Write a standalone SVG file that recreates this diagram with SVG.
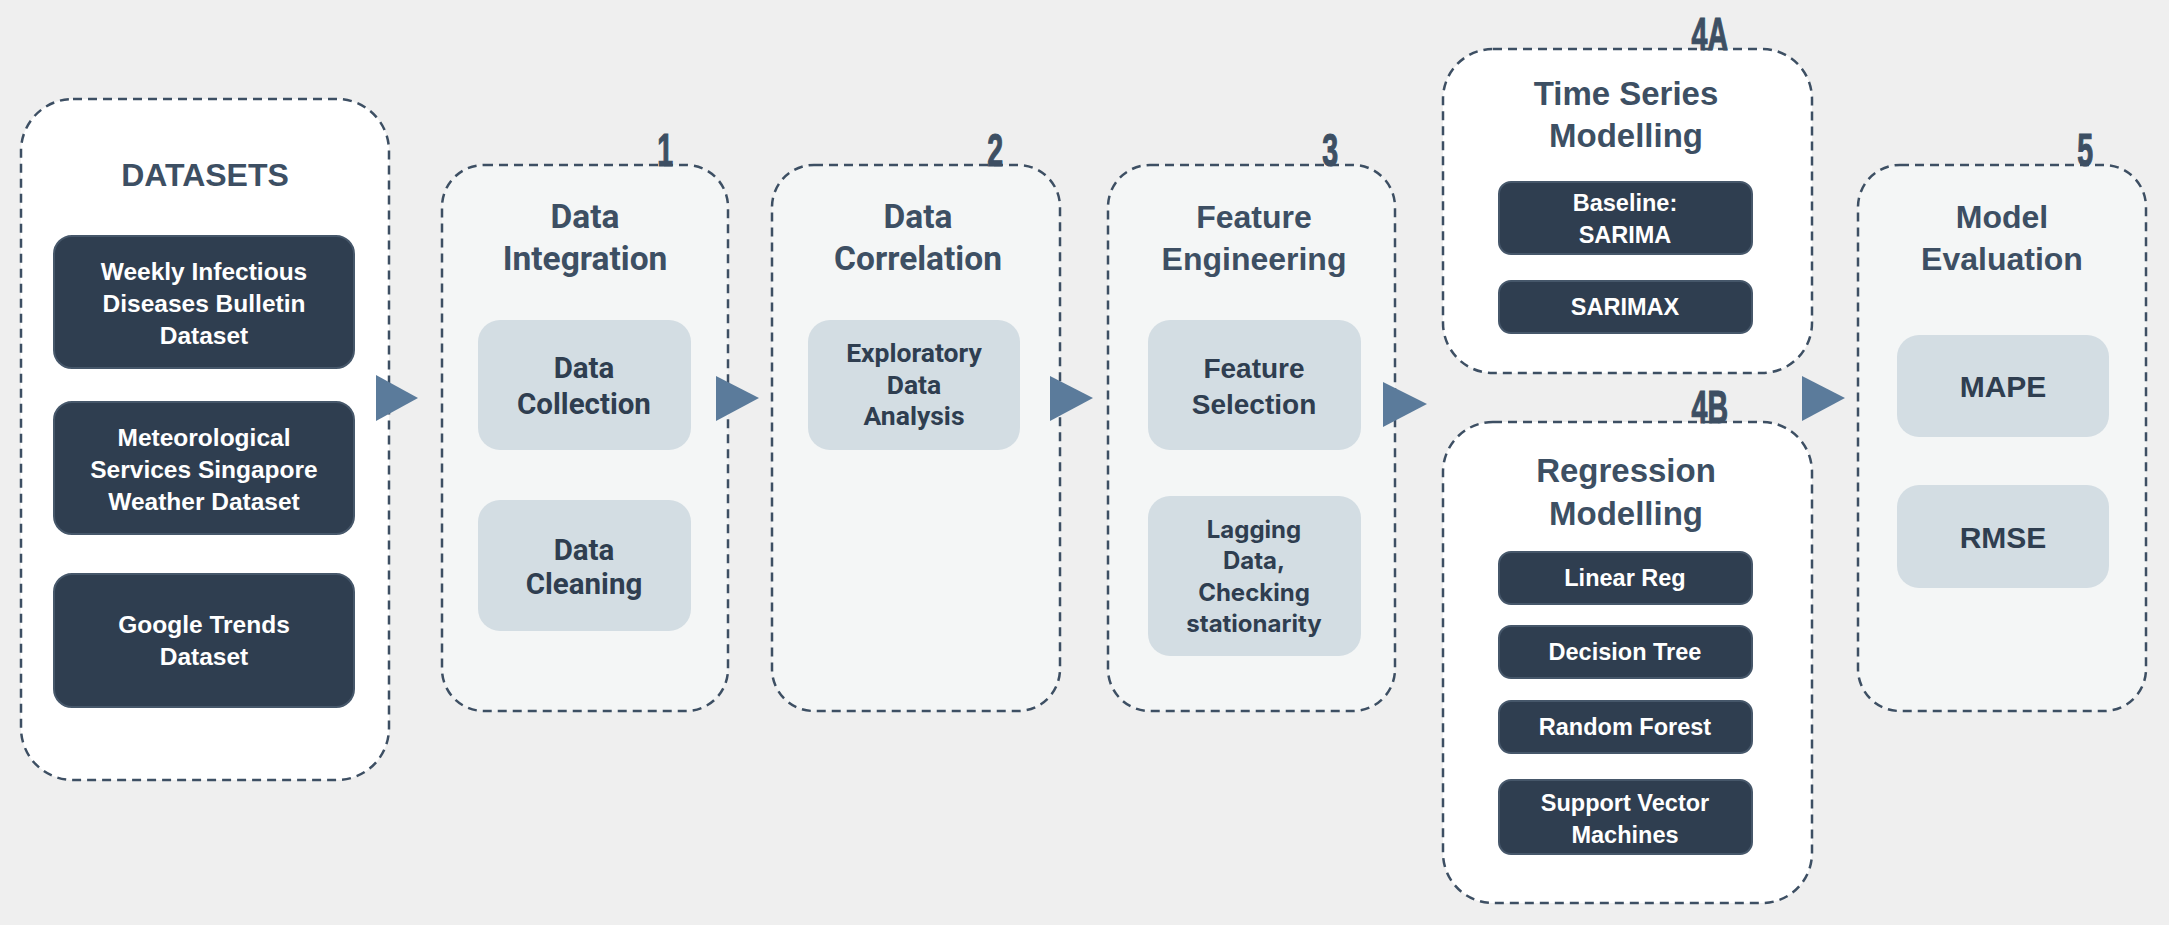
<svg xmlns="http://www.w3.org/2000/svg" width="2169" height="925" viewBox="0 0 2169 925">
<defs>
<style>
.bg{fill:#efefef}
.cont{stroke:#3d4f63;stroke-width:2.5;stroke-dasharray:9 6}
.white{fill:#ffffff}
.pale{fill:#f4f6f6}
.dark{fill:#2f3e50;stroke:#46576a;stroke-width:2}
.light{fill:#d3dde3}
.title{font-family:"Liberation Sans",Arial,sans-serif;font-weight:700;fill:#3d4f63;text-anchor:middle}
.titleN{font-family:Roboto,"Liberation Sans",sans-serif;font-weight:700;fill:#3d4f63;text-anchor:middle}
.wt{font-family:"Liberation Sans",Arial,sans-serif;font-weight:700;fill:#ffffff;text-anchor:middle}
.it{font-family:Roboto,"Liberation Sans",sans-serif;font-weight:700;fill:#2f3e50;text-anchor:middle}
.il{font-family:"Liberation Sans",Arial,sans-serif;font-weight:700;fill:#2f3e50;text-anchor:middle}
.ii{font-family:Inter,"Liberation Sans",sans-serif;font-weight:700;fill:#2f3e50;text-anchor:middle}
.num{font-family:"Liberation Sans",Arial,sans-serif;font-weight:700;fill:#3d4f63;stroke:#3d4f63;stroke-width:1.2;text-anchor:end;font-size:46px}
.arrow{fill:#5b7b9b}
</style>
</defs>
<rect class="bg" x="0" y="0" width="2169" height="925"/>

<g id="datasets">
<rect class="cont white" x="21" y="99" width="368" height="681" rx="52"/>
<text class="title" x="205" y="186" font-size="32">DATASETS</text>
<g id="ds-weekly">
<rect class="dark" x="54" y="236" width="300" height="132" rx="18"/>
<text class="wt" x="204" y="280" font-size="24.5">Weekly Infectious</text>
<text class="wt" x="204" y="312" font-size="24.5">Diseases Bulletin</text>
<text class="wt" x="204" y="344" font-size="24.5">Dataset</text>
</g>
<g id="ds-weather">
<rect class="dark" x="54" y="402" width="300" height="132" rx="18"/>
<text class="wt" x="204" y="446" font-size="24.5">Meteorological</text>
<text class="wt" x="204" y="478" font-size="24.5">Services Singapore</text>
<text class="wt" x="204" y="510" font-size="24.5">Weather Dataset</text>
</g>
<g id="ds-google">
<rect class="dark" x="54" y="574" width="300" height="133" rx="18"/>
<text class="wt" x="204" y="633" font-size="24.5">Google Trends</text>
<text class="wt" x="204" y="665" font-size="24.5">Dataset</text>
</g>
</g>

<g id="stage1">
<rect class="cont pale" x="442" y="165" width="286" height="546" rx="42"/>
<text class="num" transform="translate(673,166) scale(0.62,1)">1</text>
<text class="titleN" x="585" y="228" font-size="33.5">Data</text>
<text class="titleN" x="585" y="270" font-size="33.5">Integration</text>
<g id="data-collection">
<rect class="light" x="478" y="320" width="213" height="130" rx="22"/>
<text class="it" x="584" y="378" font-size="29.5">Data</text>
<text class="it" x="584" y="414" font-size="29.5">Collection</text>
</g>
<g id="data-cleaning">
<rect class="light" x="478" y="500" width="213" height="131" rx="22"/>
<text class="it" x="584" y="560" font-size="29.5">Data</text>
<text class="it" x="584" y="594" font-size="29.5">Cleaning</text>
</g>
</g>

<g id="stage2">
<rect class="cont pale" x="772" y="165" width="288" height="546" rx="42"/>
<text class="num" transform="translate(1003,166) scale(0.62,1)">2</text>
<text class="titleN" x="918" y="228" font-size="33.5">Data</text>
<text class="titleN" x="918" y="270" font-size="33.5">Correlation</text>
<g id="eda">
<rect class="light" x="808" y="320" width="212" height="130" rx="22"/>
<text class="it" x="914" y="362" font-size="26.5">Exploratory</text>
<text class="it" x="914" y="394" font-size="26.5">Data</text>
<text class="it" x="914" y="425" font-size="26.5">Analysis</text>
</g>
</g>

<g id="stage3">
<rect class="cont pale" x="1108" y="165" width="287" height="546" rx="42"/>
<text class="num" transform="translate(1338,166) scale(0.62,1)">3</text>
<text class="title" x="1254" y="228" font-size="32">Feature</text>
<text class="title" x="1254" y="270" font-size="32">Engineering</text>
<g id="feature-selection">
<rect class="light" x="1148" y="320" width="213" height="130" rx="22"/>
<text class="il" x="1254" y="378" font-size="28">Feature</text>
<text class="il" x="1254" y="414" font-size="28">Selection</text>
</g>
<g id="lagging">
<rect class="light" x="1148" y="496" width="213" height="160" rx="22"/>
<text class="ii" x="1254" y="538" font-size="24">Lagging</text>
<text class="ii" x="1254" y="569" font-size="24">Data,</text>
<text class="ii" x="1254" y="601" font-size="24">Checking</text>
<text class="ii" x="1254" y="632" font-size="24">stationarity</text>
</g>
</g>

<g id="stage4a">
<rect class="cont white" x="1443" y="49" width="369" height="324" rx="50"/>
<text class="num" transform="translate(1728,50) scale(0.62,1)">4A</text>
<text class="title" x="1626" y="105" font-size="33">Time Series</text>
<text class="title" x="1626" y="147" font-size="33">Modelling</text>
<g id="sarima">
<rect class="dark" x="1499" y="182" width="253" height="72" rx="12"/>
<text class="wt" x="1625" y="211" font-size="23.5">Baseline:</text>
<text class="wt" x="1625" y="243" font-size="23.5">SARIMA</text>
</g>
<g id="sarimax">
<rect class="dark" x="1499" y="281" width="253" height="52" rx="12"/>
<text class="wt" x="1625" y="315" font-size="23.5">SARIMAX</text>
</g>
</g>

<g id="stage4b">
<rect class="cont white" x="1443" y="422" width="369" height="481" rx="50"/>
<text class="num" transform="translate(1728,423) scale(0.62,1)">4B</text>
<text class="title" x="1626" y="482" font-size="33">Regression</text>
<text class="title" x="1626" y="525" font-size="33">Modelling</text>
<g id="linear-reg">
<rect class="dark" x="1499" y="552" width="253" height="52" rx="12"/>
<text class="wt" x="1625" y="586" font-size="23.5">Linear Reg</text>
</g>
<g id="decision-tree">
<rect class="dark" x="1499" y="626" width="253" height="52" rx="12"/>
<text class="wt" x="1625" y="660" font-size="23.5">Decision Tree</text>
</g>
<g id="random-forest">
<rect class="dark" x="1499" y="701" width="253" height="52" rx="12"/>
<text class="wt" x="1625" y="735" font-size="23.5">Random Forest</text>
</g>
<g id="svm">
<rect class="dark" x="1499" y="780" width="253" height="74" rx="12"/>
<text class="wt" x="1625" y="811" font-size="23.5">Support Vector</text>
<text class="wt" x="1625" y="843" font-size="23.5">Machines</text>
</g>
</g>

<g id="stage5">
<rect class="cont pale" x="1858" y="165" width="288" height="546" rx="42"/>
<text class="num" transform="translate(2093,166) scale(0.62,1)">5</text>
<text class="title" x="2002" y="228" font-size="32">Model</text>
<text class="title" x="2002" y="270" font-size="32">Evaluation</text>
<g id="mape">
<rect class="light" x="1897" y="335" width="212" height="102" rx="22"/>
<text class="il" x="2003" y="397" font-size="30">MAPE</text>
</g>
<g id="rmse">
<rect class="light" x="1897" y="485" width="212" height="103" rx="22"/>
<text class="il" x="2003" y="548" font-size="30">RMSE</text>
</g>
</g>

<g id="connectors">
<polygon class="arrow" points="376,375 418,398 376,421"/>
<polygon class="arrow" points="716,376 759,398 716,421"/>
<polygon class="arrow" points="1050,376 1093,398 1050,421"/>
<polygon class="arrow" points="1383,382 1427,404 1383,427"/>
<polygon class="arrow" points="1802,376 1845,398 1802,421"/>
</g>
</svg>
